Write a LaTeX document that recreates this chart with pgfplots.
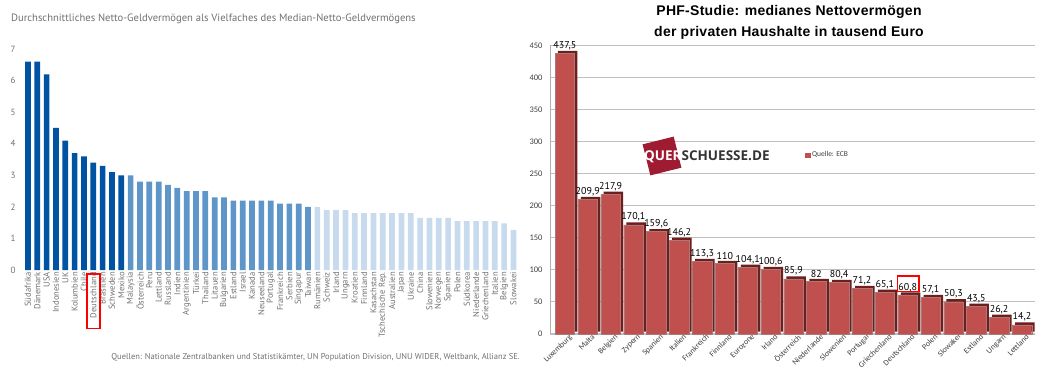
\documentclass[border=0pt]{standalone}
\usepackage{pgfplots}
\pgfplotsset{compat=1.18}
\usepackage{pgfplotstable}
\usepackage{fontspec}
\setmainfont{PT Sans}
\newfontfamily\calfont{Carlito}
\newfontfamily\libfont[LetterSpace=2]{Liberation Sans}
\newfontfamily\logofont{Open Sans}
\definecolor{dblue}{HTML}{0052A3}
\definecolor{mblue}{HTML}{5F96CA}
\definecolor{lblue}{HTML}{C8DBEE}
\definecolor{redbar}{HTML}{C0504D}
\definecolor{reddark}{HTML}{6E1F1D}
\definecolor{txtgray}{HTML}{707070}
\definecolor{logored}{HTML}{9E1B32}

\pgfplotstableread{
i v
1 6.6
2 6.6
3 6.2
4 4.5
5 4.1
6 3.7
7 3.6
8 3.4
9 3.3
10 3.1
11 3.0
}\darkdata
\pgfplotstableread{
i v
12 3.0
13 2.8
14 2.8
15 2.8
16 2.7
17 2.6
18 2.5
19 2.5
20 2.5
21 2.3
22 2.3
23 2.2
24 2.2
25 2.2
26 2.2
27 2.2
28 2.1
29 2.1
30 2.1
31 2.0
}\middata
\pgfplotstableread{
i v
32 2.0
33 1.9
34 1.9
35 1.9
36 1.8
37 1.8
38 1.8
39 1.8
40 1.8
41 1.8
42 1.8
43 1.65
44 1.65
45 1.65
46 1.65
47 1.55
48 1.55
49 1.55
50 1.55
51 1.55
52 1.48
53 1.27
}\lightdata
\pgfplotstableread{
i v
1 437.5
2 209.9
3 217.9
4 170.1
5 159.6
6 146.2
7 113.3
8 110
9 104.1
10 100.6
11 85.9
12 82
13 80.4
14 71.2
15 65.1
16 60.8
17 57.1
18 50.3
19 43.5
20 26.2
21 14.2
}\phfdata

\begin{document}
\begin{tikzpicture}[x=1bp,y=1bp]
\useasboundingbox (0,0) rectangle (1050,380);
% left chart
\node[anchor=west, text=txtgray, font=\fontsize{10.6bp}{13bp}\selectfont, inner sep=0pt] at (11,361) {Durchschnittliches Netto-Geldvermögen als Vielfaches des Median-Netto-Geldvermögens};
\begin{axis}[
  at={(20bp,110bp)}, anchor=south west, scale only axis,
  width=500bp, height=221bp,
  xmin=0.15, xmax=53.7, ymin=0, ymax=7,
  axis line style={draw=none}, major tick length=0pt,
  ytick={0,1,...,7},
  /pgf/number format/assume math mode=true,
  yticklabel style={text=txtgray, font=\fontsize{9bp}{10bp}\selectfont, xshift=-1bp},
  xtick={1,...,53},
  xticklabels={Südafrika,Dänemark,USA,Indonesien,UK,Kolumbien,Chile,Deutschland,Brasilien,Schweden,Mexiko,Malaysia,Österreich,Peru,Lettland,Russland,Indien,Argentinien,Türkei,Thailand,Litauen,Bulgarien,Estland,Israel,Kanada,Neuseeland,Portugal,Frankreich,Serbien,Singapur,Taiwan,Rumänien,Schweiz,Irland,Ungarn,Kroatien,Finnland,Kasachstan,Tschechische Rep.,Australien,Japan,Ukraine,China,Slowenien,Norwegen,Spanien,Polen,Südkorea,Niederlande,Griechenland,Italien,Belgien,Slowakei},
  xticklabel style={rotate=90, anchor=east, text=txtgray, font=\fontsize{8.6bp}{9bp}\selectfont, inner xsep=2bp, inner ysep=0.5bp},
  ybar, bar width=5.7bp, clip=false,
]
\addplot[fill=dblue, draw=none, bar shift=0pt] table[x=i,y=v]{\darkdata};
\addplot[fill=mblue, draw=none, bar shift=0pt] table[x=i,y=v]{\middata};
\addplot[fill=lblue, draw=none, bar shift=0pt] table[x=i,y=v]{\lightdata};
\draw[red, line width=1.6bp] (axis cs:7.3,-0.12) rectangle (axis cs:8.7,-1.85);
\end{axis}
\node[anchor=east, text=txtgray, font=\fontsize{8.5bp}{10bp}\selectfont, inner sep=0pt] at (520,23) {Quellen: Nationale Zentralbanken und Statistikämter, UN Population Division, UNU WIDER, Weltbank, Allianz SE.};

% right chart
\node[align=center, font=\libfont\bfseries\fontsize{14bp}{21bp}\selectfont] at (789,357.5) {PHF-Studie: medianes Nettovermögen\\der privaten Haushalte in tausend Euro};
\begin{axis}[
  at={(550bp,46bp)}, anchor=south west, scale only axis,
  width=485bp, height=288.7bp,
  xmin=0.35, xmax=21.57, ymin=0, ymax=450,
  ytick={0,50,...,450},
  ymajorgrids, grid style={draw=black!25, line width=1bp},
  axis x line*=bottom, axis y line*=left,
  x axis line style={draw=black!25, line width=2bp, -},
  y axis line style={draw=black!30, line width=0.8bp, -},
  major tick length=0pt,
  /pgf/number format/assume math mode=true,
  yticklabel style={text=black!75, font=\calfont\fontsize{8.5bp}{10bp}\selectfont, xshift=-4bp},
  xtick={1,...,21},
  xticklabels={Luxemburg,Malta,Belgien,Zypern,Spanien,Italien,Frankreich,Finnland,Eurozone,Irland,Österreich,Niederlande,Slowenien,Portugal,Griechenland,Deutschland,Polen,Slowakei,Estland,Ungarn,Lettland},
  xticklabel style={rotate=45, anchor=north east, text=black!75, font=\calfont\fontsize{8bp}{9bp}\selectfont, inner sep=1bp, xshift=4bp, yshift=-1bp},
  ybar, bar width=19.5bp, clip=false,
  legend style={at={(0.52,0.62)}, anchor=west, draw=none, fill=none, font=\calfont\fontsize{7.5bp}{9bp}\selectfont, text=black!75},
  legend image code/.code={\fill[redbar] (0bp,-2.2bp) rectangle (4.4bp,2.2bp);},
]
\addplot[fill=reddark, draw=none, bar shift=2.8bp, yshift=2.5bp, forget plot] table[x=i,y=v]{\phfdata};
\addplot[fill=redbar, draw=reddark!60, line width=0.3bp, bar shift=0pt,
  nodes near coords, /pgf/number format/.cd, use comma, fixed, precision=1, /tikz/.cd,
  every node near coord/.append style={font=\calfont\fontsize{8.5bp}{10bp}\selectfont, text=black!75, yshift=2bp}] table[x=i,y=v]{\phfdata};
\addlegendentry{Quelle: ECB}
\draw[red, line width=1.6bp] (axis cs:15.55,66) rectangle (axis cs:16.5,90);
\end{axis}
% logo
\node[fill=logored, rotate=14, minimum size=32bp, inner sep=0pt] at (662,224) {};
\node[anchor=west, inner sep=0pt, font=\logofont\bfseries\fontsize{13.5bp}{15bp}\selectfont] at (644,223) {\textcolor{white}{QUER}\textcolor{black!80}{SCHUESSE.DE}};
\end{tikzpicture}
\end{document}
